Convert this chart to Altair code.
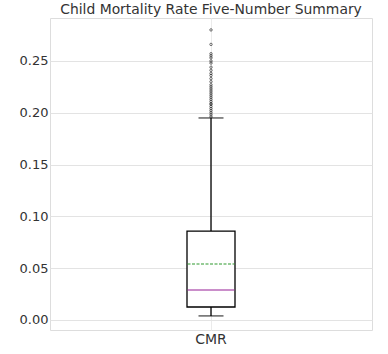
import altair as alt
import pandas as pd

category = ["CMR"]
q1 = [0.0125]
median = [0.029]
mean = [0.054]
q3 = [0.0858]
whisker_low = [0.0039]
whisker_high = [0.195]
outliers = [0.280, 0.266, 0.257, 0.255, 0.253, 0.250, 0.248, 0.244, 0.241, 0.238,
            0.236, 0.233, 0.230, 0.227, 0.225, 0.223, 0.221, 0.219, 0.217, 0.215,
            0.213, 0.211, 0.209, 0.208, 0.206, 0.204, 0.202, 0.200, 0.198, 0.196]

summary = pd.DataFrame({
    "cat": category, "q1": q1, "median": median, "mean": mean, "q3": q3,
    "lo": whisker_low, "hi": whisker_high,
})
out_df = pd.DataFrame({"cat": category * len(outliers), "v": outliers})

ydom = [-0.0097, 0.2915]
X = alt.X("cat:N", title=None, scale=alt.Scale(domain=category),
          axis=alt.Axis(labelAngle=0, labelFontSize=14, labelColor="#333333",
                        ticks=False, domain=False, grid=True, gridColor="#ebebeb",
                        labelPadding=2, labelFont="DejaVu Sans"))
Y = alt.Y("q1:Q", title=None, scale=alt.Scale(domain=ydom, nice=False, zero=False),
          axis=alt.Axis(values=[0, 0.05, 0.10, 0.15, 0.20, 0.25], format=".2f",
                        labelFontSize=13, labelColor="#333333", ticks=False,
                        domain=False, gridColor="#e3e3e3", labelPadding=2,
                        labelFont="DejaVu Sans"))

base = alt.Chart(summary)

whisk_lo = base.mark_rule(color="black", strokeWidth=1.3).encode(
    x=X, y=alt.Y("lo:Q", scale=alt.Scale(domain=ydom)), y2="q1:Q")
whisk_hi = base.mark_rule(color="black", strokeWidth=1.3).encode(
    x=X, y=alt.Y("q3:Q", scale=alt.Scale(domain=ydom)), y2="hi:Q")
box = base.mark_bar(size=48, fill="white", stroke="black", strokeWidth=1.3).encode(
    x=X, y=Y, y2="q3:Q")
cap_lo = base.mark_tick(size=25, thickness=1.3, color="black").encode(
    x=X, y=alt.Y("lo:Q", scale=alt.Scale(domain=ydom)))
cap_hi = base.mark_tick(size=25, thickness=1.3, color="black").encode(
    x=X, y=alt.Y("hi:Q", scale=alt.Scale(domain=ydom)))
med = base.mark_tick(size=47, thickness=1.5, color="#9a2a9a").encode(
    x=X, y=alt.Y("median:Q", scale=alt.Scale(domain=ydom)))
mn = base.mark_rule(color="#2e9a2e", strokeWidth=1.1, strokeDash=[3, 1.5],
                    xOffset=-23.5, x2Offset=23.5).encode(
    x=alt.X("cat:N", scale=alt.Scale(domain=category), bandPosition=0.5),
    x2=alt.X2("cat:N", bandPosition=0.5),
    y=alt.Y("mean:Q", scale=alt.Scale(domain=ydom)))
pts = alt.Chart(out_df).mark_point(shape="circle", size=6, filled=False,
                                   color="#222222", strokeWidth=0.8, opacity=0.8).encode(
    x=X, y=alt.Y("v:Q", scale=alt.Scale(domain=ydom)))

chart = alt.layer(whisk_lo, whisk_hi, box, cap_lo, cap_hi, med, mn, pts).properties(
    width=322, height=312,
    title=alt.TitleParams("Child Mortality Rate Five-Number Summary", fontSize=13.9,
                          font="DejaVu Sans", fontWeight="normal", color="#333333",
                          anchor="middle", offset=1),
    autosize=alt.AutoSizeParams(type="none"),
    padding={"left": 50, "top": 18, "right": 16, "bottom": 24},
).configure_view(stroke="#e8e8e8", strokeWidth=1).configure(background="white")

chart.save("out.html", embed_options={"renderer": "svg", "actions": False})
